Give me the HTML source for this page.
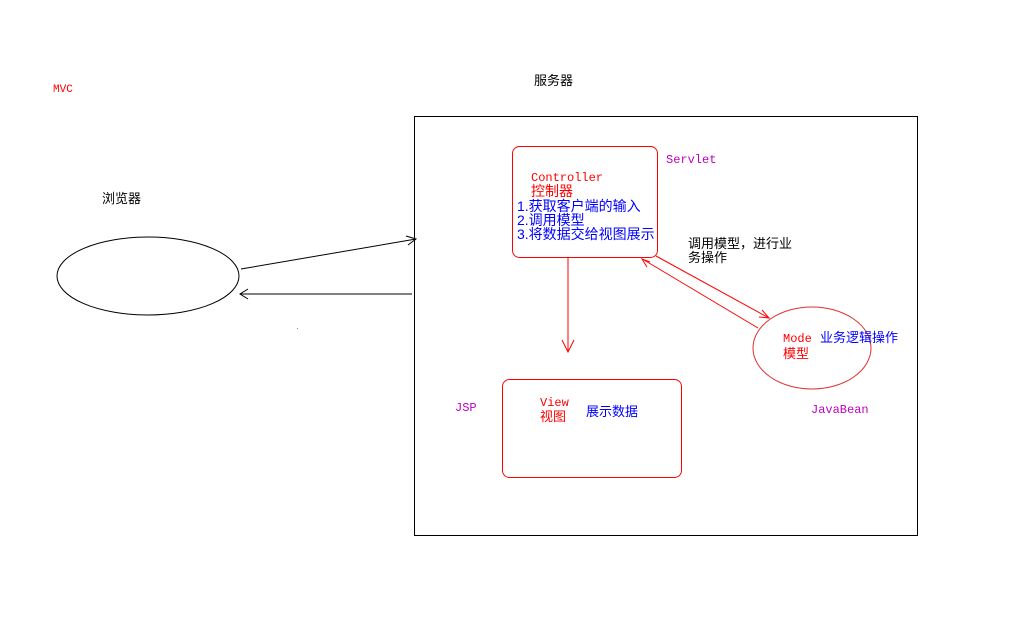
<!DOCTYPE html>
<html><head><meta charset="utf-8"><style>
body{margin:0;width:1012px;height:619px;background:#fff;position:relative;overflow:hidden;font-family:"Liberation Sans","Noto Sans CJK SC",sans-serif}
.t{position:absolute;font-size:13px;line-height:13px;white-space:nowrap}
.m{font-family:"Liberation Mono","Noto Sans CJK SC",monospace;font-size:12px}
</style></head><body>
<svg width="1012" height="619" style="position:absolute;left:0;top:0">
<rect x="414.5" y="116.5" width="503" height="419" fill="none" stroke="#000"/>
<ellipse cx="148" cy="276" rx="91" ry="39" fill="none" stroke="#000"/>
<line x1="241" y1="269" x2="416" y2="239" stroke="#000"/>
<polyline points="406,236 416,239 408,245" fill="none" stroke="#000"/>
<line x1="240" y1="294" x2="412" y2="294" stroke="#000"/>
<polyline points="248,289 240,294 248,299" fill="none" stroke="#000"/>
<rect x="512.5" y="146.5" width="145" height="111" rx="7" fill="none" stroke="#f00"/>
<line x1="568" y1="258" x2="568" y2="352" stroke="#f00"/>
<polyline points="562,340 568,352 574,340" fill="none" stroke="#f00"/>
<rect x="502.5" y="379.5" width="179" height="98" rx="7" fill="none" stroke="#f00"/>
<ellipse cx="812" cy="348" rx="59" ry="41" fill="none" stroke="#e03030"/>
<line x1="656" y1="256" x2="769" y2="318" stroke="#f00"/>
<polyline points="762,310 769,318 759,317" fill="none" stroke="#f00"/>
<line x1="644" y1="260" x2="758" y2="328" stroke="#f00"/>
<polyline points="650,262 642,259 647,267" fill="none" stroke="#f00"/>
<rect x="297" y="328" width="1" height="1" fill="#888"/>
</svg>
<div class="t m" style="left:53px;top:84px;color:#f00;font-size:11px">MVC</div>
<div class="t" style="left:534px;top:74px">服务器</div>
<div class="t" style="left:102px;top:192px">浏览器</div>
<div class="t m" style="left:666px;top:154px;color:#c000c0">Servlet</div>
<div class="t m" style="left:531px;top:172px;color:#f00">Controller</div>
<div class="t" style="left:531px;top:185px;color:#f00;font-size:14px">控制器</div>
<div class="t" style="left:517px;top:199px;color:#00f;font-size:14px;line-height:14px">1.获取客户端的输入<br>2.调用模型<br>3.将数据交给视图展示</div>
<div class="t" style="left:688px;top:237px;line-height:14px">调用模型，进行业<br>务操作</div>
<div class="t m" style="left:783px;top:333px;color:#f00">Mode</div>
<div class="t" style="left:783px;top:347px;color:#f00">模型</div>
<div class="t" style="left:820px;top:331px;color:#00f">业务逻辑操作</div>
<div class="t m" style="left:811px;top:404px;color:#c000c0">JavaBean</div>
<div class="t m" style="left:455px;top:402px;color:#c000c0">JSP</div>
<div class="t m" style="left:540px;top:397px;color:#f00">View</div>
<div class="t" style="left:540px;top:410px;color:#f00">视图</div>
<div class="t" style="left:586px;top:405px;color:#00f">展示数据</div>
</body></html>
